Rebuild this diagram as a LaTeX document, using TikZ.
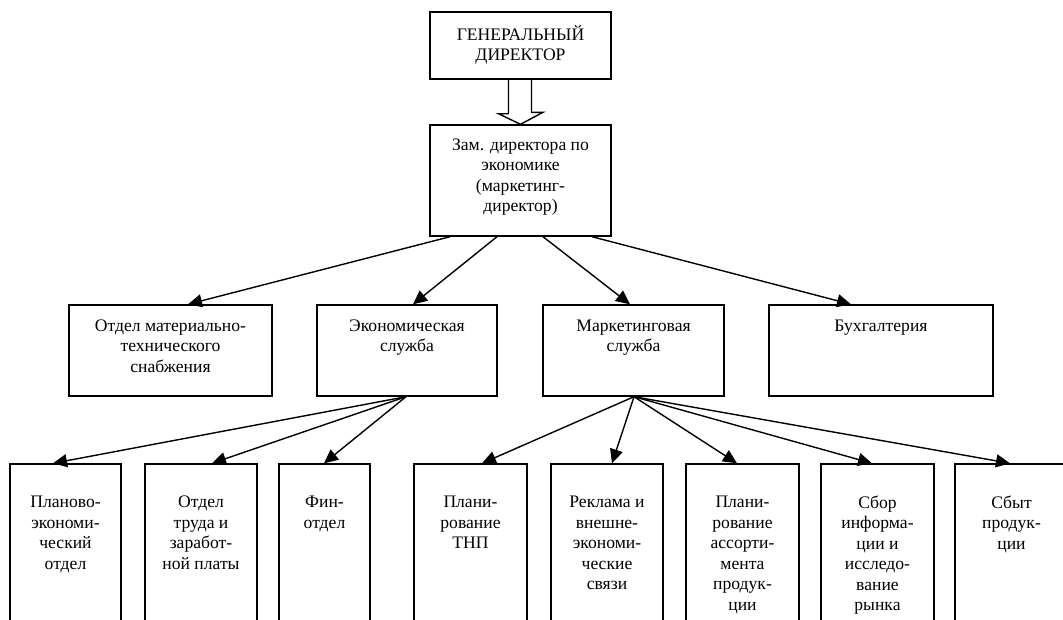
\documentclass[tikz,border=0pt]{standalone}
\usepackage{fontspec}
\setmainfont{Liberation Serif}
\usetikzlibrary{arrows.meta}

\begin{document}
\begin{tikzpicture}[x=1pt,y=-1pt,
  box/.style={draw, line width=1.4pt, inner sep=0pt, fill=white},
  txt/.style={inner sep=0pt, anchor=north, align=center,
    font=\fontsize{17.6}{20.5}\selectfont},
  arr/.style={line width=1.4pt, -{Triangle[length=14pt,width=13pt]}},
  hollow/.style={draw, line width=1.4pt, line join=miter}]

\useasboundingbox (0,0) rectangle (1063,619);
\fill[white] (0,0) rectangle (1063,619);
\clip (0,0) rectangle (1063,619);

\newcommand{\fl}{\rule{0pt}{12pt}}

% top levels
\node[box, minimum width=181pt, minimum height=67pt]  (gd)  at (520.5,45.5)  {};
\node[box, minimum width=181pt, minimum height=111pt] (zam) at (520.5,180.5) {};
\node[txt] (gdt)  at ([yshift=-13.6pt]gd.north)  {\fl ГЕНЕРАЛЬНЫЙ\\ДИРЕКТОР};
\node[txt] (zamt) at ([yshift=-13.5pt]zam.north) {\fl Зам. директора по\\экономике\\(маркетинг-\\директор)};

% block arrow between the two directors
\draw[hollow] ([xshift=-12pt]gd.south) -- ++(0,34) -- ++(-10,0) -- (zam.north)
  -- ++(22.5,-12) -- ++(-11.5,0) -- ++(0,-34);

% second level
\node[box, minimum width=203pt, minimum height=91pt] (mts)  at (170.5,350.5) {};
\node[box, minimum width=180pt, minimum height=91pt] (ekon) at (407,350.5)   {};
\node[box, minimum width=181pt, minimum height=91pt] (mark) at (633.5,350.5) {};
\node[box, minimum width=224pt, minimum height=91pt] (buh)  at (881,350.5)   {};

\node[txt] (mtst)  at ([yshift=-14.5pt]mts.north)  {\fl Отдел материально-\\технического\\снабжения};
\node[txt] (ekont) at ([yshift=-14.5pt]ekon.north) {\fl Экономическая\\служба};
\node[txt] (markt) at ([yshift=-14.5pt]mark.north) {\fl Маркетинговая\\служба};
\node[txt] (buht)  at ([yshift=-14.5pt]buh.north)  {\fl Бухгалтерия};

% third level
\foreach \n/\cx/\w in {pe/65.5/111, ot/201/112, fin/324.5/91, tnp/470.5/113,
                       rek/607/112, ass/742.5/113, sbor/877.5/113, sbyt/1011.5/113}
  \node[box, minimum width=\w pt, minimum height=176pt] (\n) at (\cx,552) {};

\node[txt] (pet)   at ([yshift=-32pt]pe.north)   {\fl Планово-\\экономи-\\ческий\\отдел};
\node[txt] (ott)   at ([yshift=-32pt]ot.north)   {\fl Отдел\\труда и\\заработ-\\ной платы};
\node[txt] (fint)  at ([yshift=-32pt]fin.north)  {\fl Фин-\\отдел};
\node[txt] (tnpt)  at ([yshift=-32pt]tnp.north)  {\fl Плани-\\рование\\ТНП};
\node[txt] (rekt)  at ([yshift=-32pt]rek.north)  {\fl Реклама и\\внешне-\\экономи-\\ческие\\связи};
\node[txt] (asst)  at ([yshift=-32pt]ass.north)  {\fl Плани-\\рование\\ассорти-\\мента\\продук-\\ции};
\node[txt] (sbort) at ([yshift=-32pt]sbor.north) {\fl Сбор\\информа-\\ции и\\исследо-\\вание\\рынка};
\node[txt] (sbytt) at ([yshift=-32pt]sbyt.north) {\fl Сбыт\\продук-\\ции};

% connectors
\draw[arr] ([xshift=-70.5pt]zam.south) -- ([xshift=17.5pt]mts.north);
\draw[arr] ([xshift=-23.5pt]zam.south) -- ([xshift=6pt]ekon.north);
\draw[arr] ([xshift=22.5pt]zam.south)  -- ([xshift=-3.5pt]mark.north);
\draw[arr] ([xshift=71.5pt]zam.south)  -- ([xshift=-30pt]buh.north);

\draw[arr] ([xshift=-1pt]ekon.south) -- ([xshift=-12.5pt]pe.north);
\draw[arr] ([xshift=-1pt]ekon.south) -- ([xshift=11pt]ot.north);
\draw[arr] ([xshift=-1pt]ekon.south) -- ([xshift=-0.5pt]fin.north);

\draw[arr] ([xshift=0.5pt]mark.south) -- ([xshift=11.5pt]tnp.north);
\draw[arr] ([xshift=0.5pt]mark.south) -- ([xshift=5pt]rek.north);
\draw[arr] ([xshift=0.5pt]mark.south) -- ([xshift=-5.5pt]ass.north);
\draw[arr] ([xshift=0.5pt]mark.south) -- ([xshift=-5.5pt]sbor.north);
\draw[arr] ([xshift=0.5pt]mark.south) -- ([xshift=-1.5pt]sbyt.north);
\end{tikzpicture}
\end{document}
